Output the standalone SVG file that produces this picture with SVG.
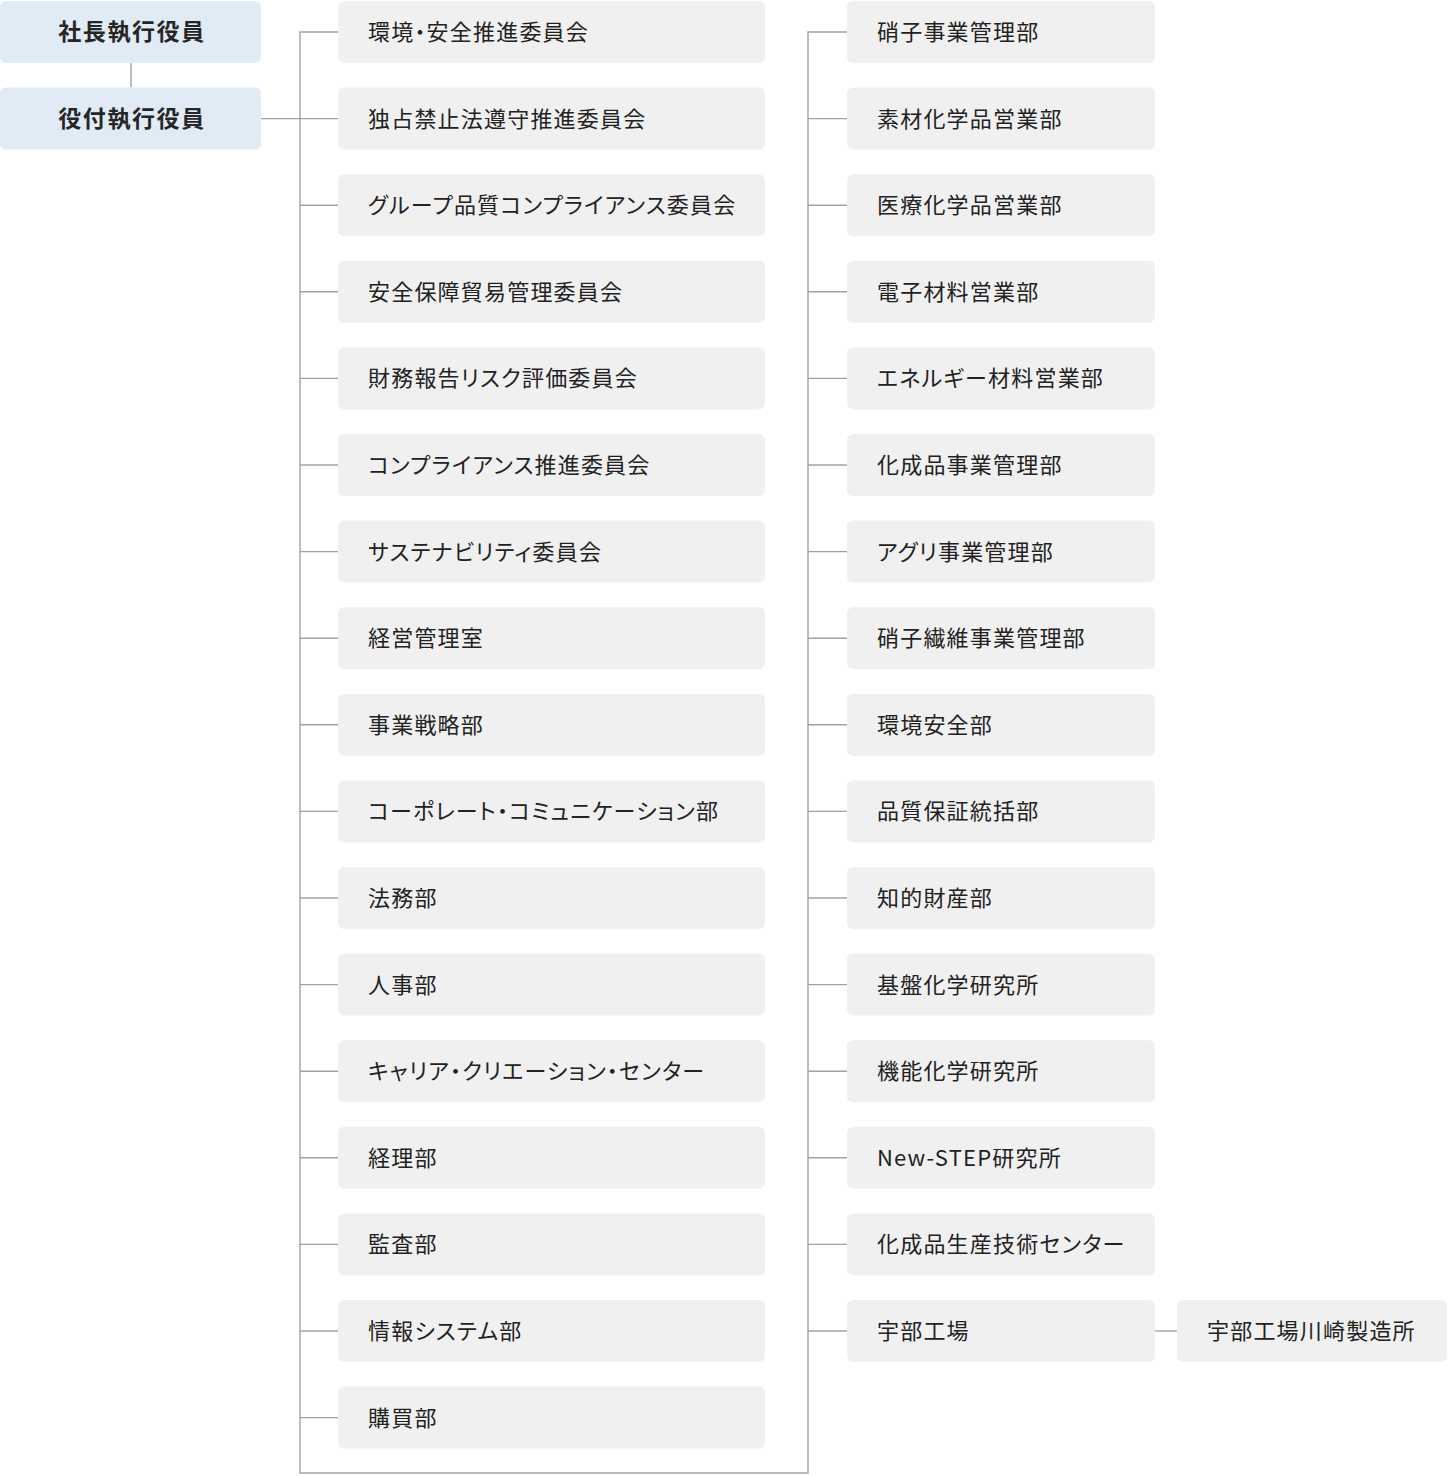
<svg xmlns="http://www.w3.org/2000/svg" width="1448" height="1476" viewBox="0 0 1448 1476">
<style>
.exec rect{fill:#e1ebf5}
.exec text{font-family:"Noto Sans CJK JP","Noto Sans",sans-serif;font-size:23px;font-weight:700;fill:#262626;text-anchor:middle;letter-spacing:1.6px}
.n rect{fill:#f0f0f0}
.n text{font-family:"Noto Sans CJK JP","Noto Sans",sans-serif;font-size:22px;fill:#222;letter-spacing:1.2px;font-feature-settings:"palt"}
#connectors{fill:none;stroke:#9ea2a8;stroke-width:1.4}
</style>
<rect width="1448" height="1476" fill="#fff"/>
<g id="connectors">
<path d="M131,63 V87.6"/>
<path d="M261,118.6 H338"/>
<path d="M338,32 H300 V1473 H808 V32 H847"/>
<path d="M300,205.2 H338 M300,291.8 H338 M300,378.4 H338 M300,465 H338 M300,551.6 H338 M300,638.2 H338 M300,724.8 H338 M300,811.4 H338 M300,898 H338 M300,984.6 H338 M300,1071.2 H338 M300,1157.8 H338 M300,1244.4 H338 M300,1331 H338 M300,1417.6 H338"/>
<path d="M808,118.6 H847 M808,205.2 H847 M808,291.8 H847 M808,378.4 H847 M808,465 H847 M808,551.6 H847 M808,638.2 H847 M808,724.8 H847 M808,811.4 H847 M808,898 H847 M808,984.6 H847 M808,1071.2 H847 M808,1157.8 H847 M808,1244.4 H847 M808,1331 H847"/>
<path d="M1155,1331 H1177"/>
</g>
<g id="exec1" class="exec"><rect x="0" y="1" width="261" height="62" rx="6"/><text x="132" y="40">社長執行役員</text></g>
<g id="exec2" class="exec"><rect x="0" y="87.6" width="261" height="62" rx="6"/><text x="132" y="126.6">役付執行役員</text></g>

<g id="m0" class="n"><rect x="338" y="1" width="427" height="62" rx="6"/><text x="368" y="40">環境・安全推進委員会</text></g>
<g id="m1" class="n"><rect x="338" y="87.6" width="427" height="62" rx="6"/><text x="368" y="126.6">独占禁止法遵守推進委員会</text></g>
<g id="m2" class="n"><rect x="338" y="174.2" width="427" height="62" rx="6"/><text x="368" y="213.2">グループ品質コンプライアンス委員会</text></g>
<g id="m3" class="n"><rect x="338" y="260.8" width="427" height="62" rx="6"/><text x="368" y="299.8">安全保障貿易管理委員会</text></g>
<g id="m4" class="n"><rect x="338" y="347.4" width="427" height="62" rx="6"/><text x="368" y="386.4">財務報告リスク評価委員会</text></g>
<g id="m5" class="n"><rect x="338" y="434" width="427" height="62" rx="6"/><text x="368" y="473">コンプライアンス推進委員会</text></g>
<g id="m6" class="n"><rect x="338" y="520.6" width="427" height="62" rx="6"/><text x="368" y="559.6">サステナビリティ委員会</text></g>
<g id="m7" class="n"><rect x="338" y="607.2" width="427" height="62" rx="6"/><text x="368" y="646.2">経営管理室</text></g>
<g id="m8" class="n"><rect x="338" y="693.8" width="427" height="62" rx="6"/><text x="368" y="732.8">事業戦略部</text></g>
<g id="m9" class="n"><rect x="338" y="780.4" width="427" height="62" rx="6"/><text x="368" y="819.4">コーポレート・コミュニケーション部</text></g>
<g id="m10" class="n"><rect x="338" y="867" width="427" height="62" rx="6"/><text x="368" y="906">法務部</text></g>
<g id="m11" class="n"><rect x="338" y="953.6" width="427" height="62" rx="6"/><text x="368" y="992.6">人事部</text></g>
<g id="m12" class="n"><rect x="338" y="1040.2" width="427" height="62" rx="6"/><text x="368" y="1079.2">キャリア・クリエーション・センター</text></g>
<g id="m13" class="n"><rect x="338" y="1126.8" width="427" height="62" rx="6"/><text x="368" y="1165.8">経理部</text></g>
<g id="m14" class="n"><rect x="338" y="1213.4" width="427" height="62" rx="6"/><text x="368" y="1252.4">監査部</text></g>
<g id="m15" class="n"><rect x="338" y="1300" width="427" height="62" rx="6"/><text x="368" y="1339">情報システム部</text></g>
<g id="m16" class="n"><rect x="338" y="1386.6" width="427" height="62" rx="6"/><text x="368" y="1425.6">購買部</text></g>

<g id="r0" class="n"><rect x="847" y="1" width="308" height="62" rx="6"/><text x="877" y="40">硝子事業管理部</text></g>
<g id="r1" class="n"><rect x="847" y="87.6" width="308" height="62" rx="6"/><text x="877" y="126.6">素材化学品営業部</text></g>
<g id="r2" class="n"><rect x="847" y="174.2" width="308" height="62" rx="6"/><text x="877" y="213.2">医療化学品営業部</text></g>
<g id="r3" class="n"><rect x="847" y="260.8" width="308" height="62" rx="6"/><text x="877" y="299.8">電子材料営業部</text></g>
<g id="r4" class="n"><rect x="847" y="347.4" width="308" height="62" rx="6"/><text x="877" y="386.4">エネルギー材料営業部</text></g>
<g id="r5" class="n"><rect x="847" y="434" width="308" height="62" rx="6"/><text x="877" y="473">化成品事業管理部</text></g>
<g id="r6" class="n"><rect x="847" y="520.6" width="308" height="62" rx="6"/><text x="877" y="559.6">アグリ事業管理部</text></g>
<g id="r7" class="n"><rect x="847" y="607.2" width="308" height="62" rx="6"/><text x="877" y="646.2">硝子繊維事業管理部</text></g>
<g id="r8" class="n"><rect x="847" y="693.8" width="308" height="62" rx="6"/><text x="877" y="732.8">環境安全部</text></g>
<g id="r9" class="n"><rect x="847" y="780.4" width="308" height="62" rx="6"/><text x="877" y="819.4">品質保証統括部</text></g>
<g id="r10" class="n"><rect x="847" y="867" width="308" height="62" rx="6"/><text x="877" y="906">知的財産部</text></g>
<g id="r11" class="n"><rect x="847" y="953.6" width="308" height="62" rx="6"/><text x="877" y="992.6">基盤化学研究所</text></g>
<g id="r12" class="n"><rect x="847" y="1040.2" width="308" height="62" rx="6"/><text x="877" y="1079.2">機能化学研究所</text></g>
<g id="r13" class="n"><rect x="847" y="1126.8" width="308" height="62" rx="6"/><text x="877" y="1165.8">New-STEP研究所</text></g>
<g id="r14" class="n"><rect x="847" y="1213.4" width="308" height="62" rx="6"/><text x="877" y="1252.4">化成品生産技術センター</text></g>
<g id="r15" class="n"><rect x="847" y="1300" width="308" height="62" rx="6"/><text x="877" y="1339">宇部工場</text></g>
<g id="x15" class="n"><rect x="1177" y="1300" width="270" height="62" rx="6"/><text x="1207" y="1339">宇部工場川崎製造所</text></g>
</svg>
